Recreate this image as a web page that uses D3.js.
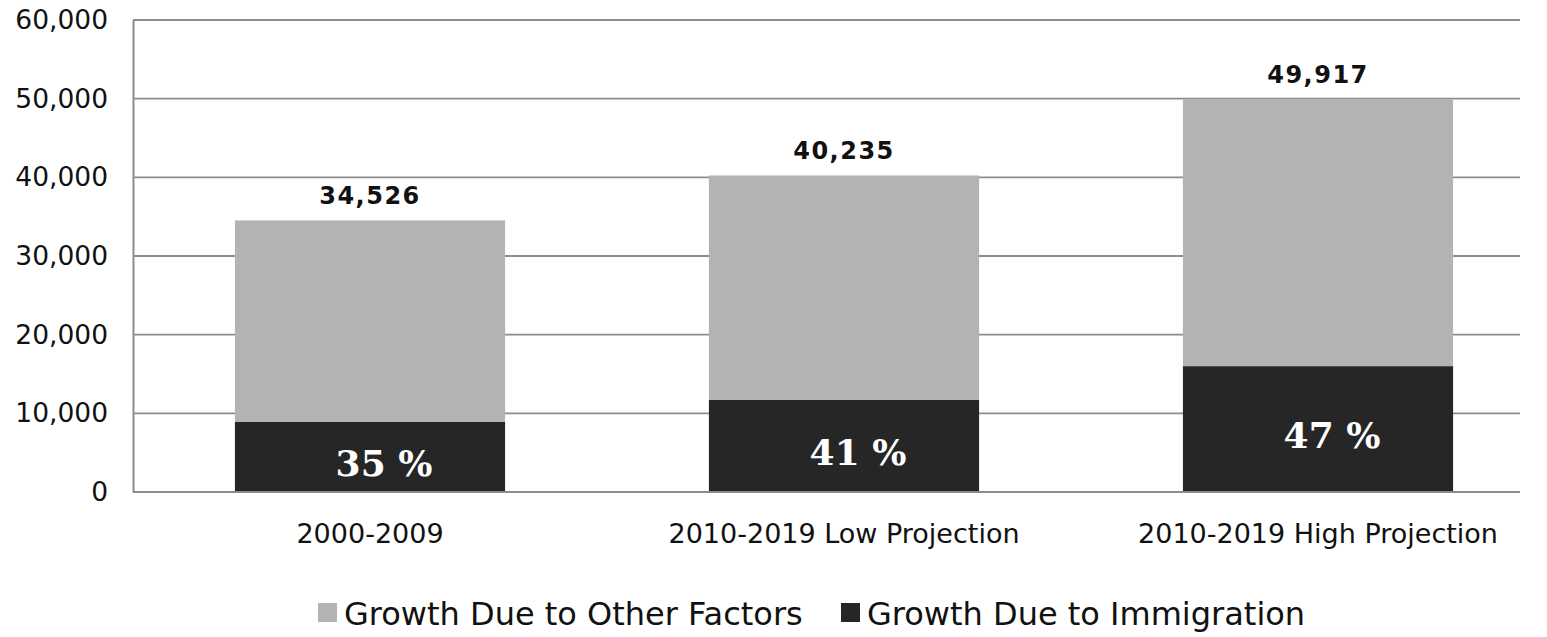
<!DOCTYPE html>
<html>
<head>
<meta charset="utf-8">
<script src="https://cdn.jsdelivr.net/npm/d3@7"></script>
<style>
  html, body { margin: 0; padding: 0; background: #fff; }
  svg { display: block; }
</style>
</head>
<body>
<svg id="chart" width="1547" height="637"></svg>
<script>
// ---- data ----
const categories = ["2000-2009", "2010-2019 Low Projection", "2010-2019 High Projection"];
const immigration = [8900, 11700, 16000];
const totals = [34526, 40235, 49917];
const percentLabels = ["35 %", "41 %", "47 %"];
const yTicks = [0, 10000, 20000, 30000, 40000, 50000, 60000];
const seriesNames = ["Growth Due to Other Factors", "Growth Due to Immigration"];
const seriesColors = ["#b3b3b3", "#262626"];

// ---- layout ----
const W = 1547, H = 637;
const margin = { left: 133, right: 27, top: 20, bottom: 145 };
const svg = d3.select("#chart");
const plotW = W - margin.left - margin.right;
const plotH = H - margin.top - margin.bottom;
const g = svg.append("g").attr("transform", `translate(${margin.left},${margin.top})`);

const x = d3.scaleBand().domain(categories).range([0, 1422]).paddingInner(0.43).paddingOuter(0.215);
const y = d3.scaleLinear().domain([0, 60000]).range([plotH, 0]);

const rows = categories.map((c, i) => ({
  cat: c,
  imm: immigration[i],
  other: totals[i] - immigration[i],
  total: totals[i],
  pct: percentLabels[i]
}));

// gridlines
g.append("g").selectAll("line").data(yTicks).join("line")
  .attr("x1", 0).attr("x2", plotW)
  .attr("y1", d => y(d)).attr("y2", d => y(d))
  .attr("stroke", "#8c8c8c").attr("stroke-width", 1.8);

// y axis
const yAxis = g.append("g").call(d3.axisLeft(y).tickValues(yTicks).tickFormat(d3.format(",")).tickSize(0).tickPadding(25));
yAxis.select(".domain").attr("stroke", "#8c8c8c").attr("stroke-width", 2);
yAxis.selectAll("text").attr("font-family", "DejaVu Sans, Verdana, sans-serif").attr("font-size", 26.5).attr("fill", "#111");

// stacked bars
const stack = d3.stack().keys(["imm", "other"]);
const stacked = stack(rows);
const colorFor = { imm: seriesColors[1], other: seriesColors[0] };
g.append("g").selectAll("g").data(stacked).join("g")
  .attr("fill", d => colorFor[d.key])
  .selectAll("rect").data(d => d).join("rect")
  .attr("x", d => x(d.data.cat))
  .attr("width", x.bandwidth())
  .attr("y", d => y(d[1]))
  .attr("height", d => y(d[0]) - y(d[1]));

// x axis
const xAxis = g.append("g").attr("transform", `translate(0,${plotH})`)
  .call(d3.axisBottom(x).tickSize(0).tickPadding(32));
xAxis.select(".domain").attr("d", `M0,0H${plotW}`).attr("stroke", "#8c8c8c").attr("stroke-width", 2);
xAxis.selectAll("text").attr("font-family", "DejaVu Sans, Verdana, sans-serif").attr("font-size", 27).attr("fill", "#111");

// total labels
g.append("g").selectAll("text").data(rows).join("text")
  .attr("x", d => x(d.cat) + x.bandwidth() / 2)
  .attr("y", d => y(d.total) - 16)
  .attr("text-anchor", "middle")
  .attr("font-family", "DejaVu Sans, Verdana, sans-serif")
  .attr("font-weight", "bold")
  .attr("font-size", 24)
  .attr("letter-spacing", 1.5)
  .attr("fill", "#111")
  .text(d => d3.format(",")(d.total));

// percentage labels
g.append("g").selectAll("text").data(rows).join("text")
  .attr("x", d => x(d.cat) + x.bandwidth() / 2 + 14)
  .attr("y", d => (y(d.imm) + y(0)) / 2 + 19)
  .attr("text-anchor", "middle")
  .attr("font-family", "DejaVu Serif, serif")
  .attr("font-weight", "bold")
  .attr("font-size", 36)
  .attr("fill", "#fff")
  .text(d => d.pct);

// legend
const legend = svg.append("g").attr("transform", "translate(0,613)");
const legendItems = [
  { name: seriesNames[0], color: seriesColors[0], x: 318 },
  { name: seriesNames[1], color: seriesColors[1], x: 841 }
];
const li = legend.selectAll("g").data(legendItems).join("g")
  .attr("transform", d => `translate(${d.x},0)`);
li.append("rect").attr("x", 0).attr("y", -10).attr("width", 19).attr("height", 19).attr("fill", d => d.color);
li.append("text").attr("x", 26).attr("y", 12)
  .attr("font-family", "DejaVu Sans, Verdana, sans-serif")
  .attr("font-size", 32)
  .attr("fill", "#111")
  .text(d => d.name);
</script>
</body>
</html>
